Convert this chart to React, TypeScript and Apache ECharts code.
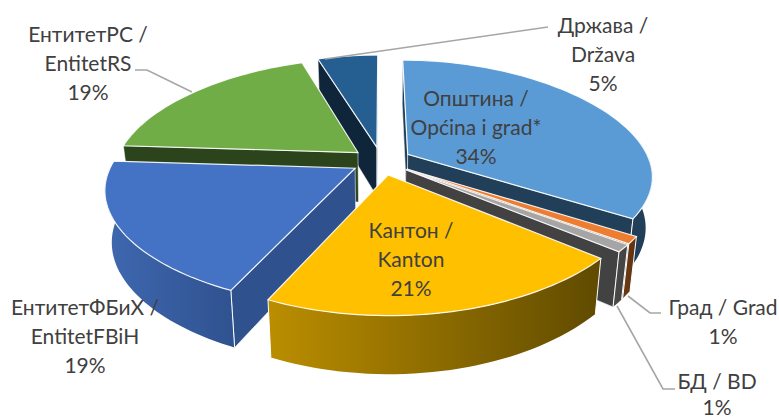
import React, { useEffect, useRef } from "react";
import * as echarts from "echarts";

const sliceNames = ["Општина / Općina i grad*", "Град / Grad", "БД / BD", "Кантон / Kanton", "ЕнтитетФБиХ / EntitetFBiH", "ЕнтитетРС / EntitetRS", "Држава / Država"];
const sliceValues = [34, 1, 1, 21, 19, 19, 5];
const labelTexts = [
  ["Општина /", "Općina i grad*", "34%"],
  ["Град / Grad", "1%"],
  ["БД / BD", "1%"],
  ["Кантон /", "Kanton", "21%"],
  ["ЕнтитетФБиХ /", "EntitetFBiH", "19%"],
  ["ЕнтитетРС /", "EntitetRS", "19%"],
  ["Држава /", "Država", "5%"],
];

// Styling and layout, kept apart from the data above.
const topColors = ["#5B9BD5", "#ED7D31", "#A5A5A5", "#FFC000", "#4472C4", "#70AD47", "#255E91"];
const faceColors = ["#223F59", "#5F3210", "#424242", "#665000", "#2F528F", "#2C441C", "#0F253A"];
const wallLeft = ["#223F59", "#6B3A14", "#4A4A4A", "#BB8E00", "#3F68B0", "#3A5A25", "#163350"];
const wallRight = ["#223F59", "#5F3210", "#424242", "#5F4A00", "#2F528F", "#2C441C", "#0F253A"];
const paintOrder = [6, 5, 4, 0, 1, 2, 3];
const labelAnchors = [
  [476, 97, 29.3],
  [723, 306, 29.3],
  [717, 380, 26.5],
  [411, 229, 29.3],
  [85, 306, 29.3],
  [88, 33, 29.3],
  [603, 24, 29.3],
];
const leaderPaths = [
  [[548, 27], [325, 59]],
  [[135, 70], [147, 70], [192, 92]],
  [[628, 296], [650, 313], [661, 313]],
  [[617, 306], [663, 389], [675, 389]],
];

const CX = 381.5, CY = 161, RX = 235, RY = 112, K = 0.2, KY = 0.167, EXPLODE = 0.125, DEPTH = 50, BULGE = 0.03, FRONT = 0.035;
const total = sliceValues.reduce((a, b) => a + b, 0);
const startAngles: number[] = [];
sliceValues.reduce((acc, v, i) => {
  startAngles[i] = acc;
  return acc + (v / total) * Math.PI * 2;
}, 0);

function proj(theta: number, r: number, mid: number) {
  const u = r * Math.sin(theta) + EXPLODE * Math.sin(mid);
  const w = r * Math.cos(theta) + EXPLODE * Math.cos(mid);
  const narrow = w < 0 ? 1 - FRONT * w * w : 1;
  const X = CX + ((RX * u) / (1 + K * w)) * (1 + BULGE * Math.max(0, 1 - w * w)) * narrow;
  const Y = CY - (RY * w) / (1 + KY * w);
  return {
    top: [X, Y],
    bottom: [CX + (X - CX) * 0.975, Y + DEPTH / (1 + 0.13 * w)],
  };
}

function area(q: number[][]) {
  let s = 0;
  for (let i = 0; i < q.length; i++) {
    const a = q[i], b = q[(i + 1) % q.length];
    s += a[0] * b[1] - b[0] * a[1];
  }
  return s;
}

function renderSlice(_: any, api: any) {
  const i = api.value(0);
  const a0 = startAngles[i];
  const a1 = a0 + (sliceValues[i] / total) * Math.PI * 2;
  const mid = (a0 + a1) / 2;
  const children: any[] = [];
  const white = "#FFFFFF";
  const face = (theta: number, isStart: boolean) => {
    const apex = proj(theta, 0, mid), edge = proj(theta, 1, mid);
    const q = [apex.top, edge.top, edge.bottom, apex.bottom];
    const s = area(q);
    if (isStart ? s < 0 : s > 0) {
      children.push({
        type: "polygon",
        shape: { points: q },
        style: { fill: faceColors[i], stroke: white, lineWidth: 0.7, strokeOpacity: 0.75 },
      });
    }
  };
  face(a0, true);
  face(a1, false);
  const limA = (80 * Math.PI) / 180, limB = (268 * Math.PI) / 180;
  const wa = Math.max(a0, limA);
  const wb = Math.min(a1, limB);
  if (wb > wa) {
    const n = 40;
    const upper: number[][] = [], lower: number[][] = [];
    for (let j = 0; j <= n; j++) {
      const p = proj(wa + ((wb - wa) * j) / n, 1, mid);
      upper.push(p.top);
      lower.push(p.bottom);
    }
    children.push({
      type: "polygon",
      shape: { points: upper.concat(lower.slice().reverse()) },
      style: {
        fill: new echarts.graphic.LinearGradient(0, 0, 1, 0, [
          { offset: 0, color: wallLeft[i] },
          { offset: 1, color: wallRight[i] },
        ]),
        stroke: "none",
      },
    });
    if (wa === a0) children.push({ type: "polyline", shape: { points: [upper[0], lower[0]] }, style: { stroke: white, lineWidth: 1, fill: "none" } });
    if (wb === a1) children.push({ type: "polyline", shape: { points: [upper[n], lower[n]] }, style: { stroke: white, lineWidth: 1, fill: "none" } });
  }
  const pts: number[][] = [proj(a0, 0, mid).top];
  const steps = Math.max(4, Math.ceil((a1 - a0) * 30));
  for (let j = 0; j <= steps; j++) pts.push(proj(a0 + ((a1 - a0) * j) / steps, 1, mid).top);
  children.push({
    type: "polygon",
    shape: { points: pts },
    style: { fill: topColors[i], stroke: white, lineWidth: 1.2, strokeOpacity: 0.9 },
  });
  return { type: "group", children };
}

export default function App() {
  const ref = useRef<HTMLDivElement>(null);
  useEffect(() => {
    const chart = echarts.init(ref.current!, undefined, { renderer: "svg" });
    const graphic: any[] = [];
    leaderPaths.forEach((pts) =>
      graphic.push({ type: "polyline", z: 20, shape: { points: pts }, style: { stroke: "#A6A6A6", lineWidth: 1.6, fill: "none" } })
    );
    labelTexts.forEach((lines, idx) =>
      lines.forEach((t, k) =>
        graphic.push({
          type: "text",
          z: 30,
          x: labelAnchors[idx][0],
          y: labelAnchors[idx][1] + k * labelAnchors[idx][2],
          style: { text: t, fill: "#404040", fontFamily: "Lato, 'Noto Sans', sans-serif", fontSize: 21, align: "center", verticalAlign: "middle" },
        })
      )
    );
    chart.setOption({
      animation: false,
      backgroundColor: "#FFFFFF",
      graphic,
      series: [
        {
          type: "custom",
          coordinateSystem: "none",
          silent: true,
          renderItem: renderSlice,
          data: paintOrder.map((i) => ({ name: sliceNames[i], value: [i, sliceValues[i]] })),
        },
      ],
    });
    return () => chart.dispose();
  }, []);
  return <div ref={ref} style={{ position: "absolute", left: 0, top: 0, width: 779, height: 419 }} />;
}
